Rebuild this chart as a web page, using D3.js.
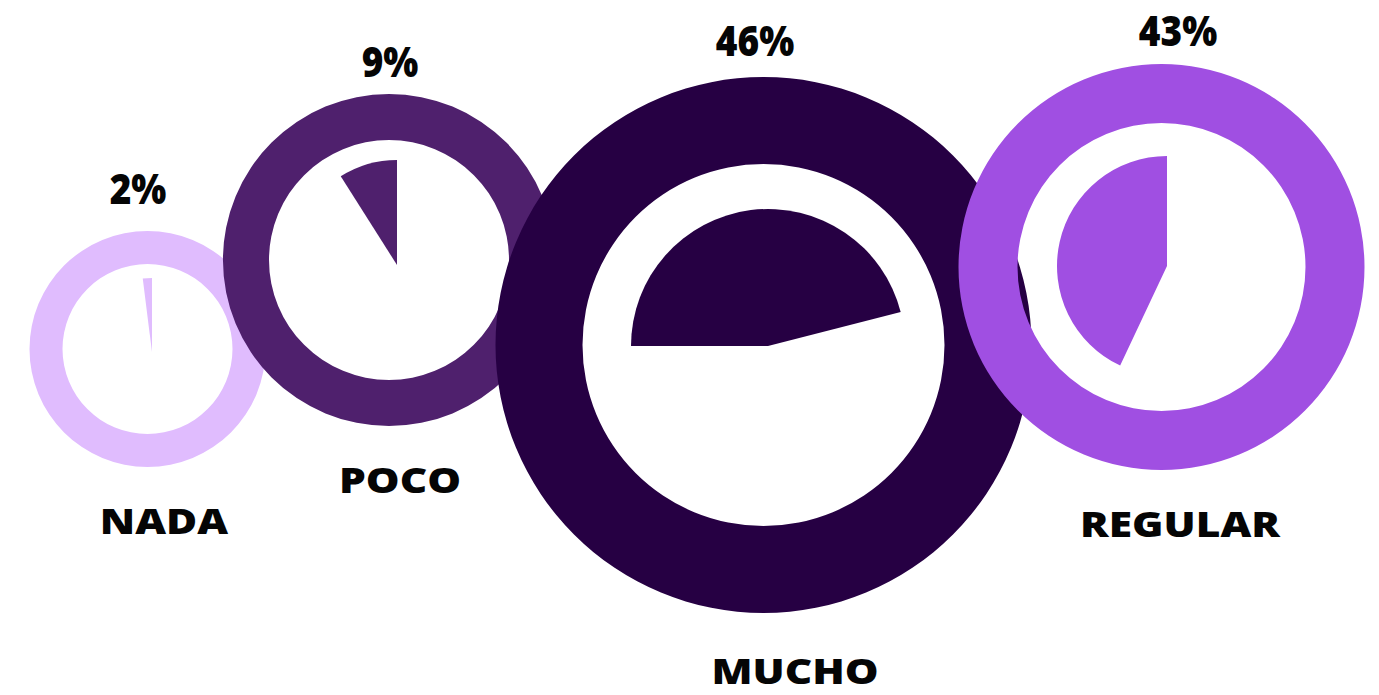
<!DOCTYPE html>
<html>
<head>
<meta charset="utf-8">
<script src="https://cdn.jsdelivr.net/npm/d3@7/dist/d3.min.js"></script>
<style>
  html, body { margin: 0; padding: 0; background: #ffffff; }
  svg { display: block; }
  text { font-family: "Open Sans", "Noto Sans", sans-serif; font-weight: 800; fill: #050505; }
</style>
</head>
<body>
<svg id="chart" width="1379" height="695"></svg>
<script>
// Survey answers and their shares (%)
const categories = ["NADA", "POCO", "MUCHO", "REGULAR"];
const shares = [2, 9, 46, 43];
const shareLabels = ["2%", "9%", "46%", "43%"];
const palette = ["#E0BCFE", "#4F206D", "#260043", "#A04FE2"];

// Placement of each ring (centre, radii), its wedge and its two labels
const layout = [
  { cx: 147.5, cy: 349, outer: 118, inner: 85,  wx: 152, wy: 352, wr: 74,  anchor: 0,   dir: -1,
    pct: [138, 204],  name: [164, 534] },
  { cx: 389,   cy: 260, outer: 166, inner: 120, wx: 397, wy: 265, wr: 105, anchor: 0,   dir: -1,
    pct: [390, 77],   name: [400, 493] },
  { cx: 763.5, cy: 345, outer: 268, inner: 181, wx: 768, wy: 346, wr: 137, anchor: -90, dir: 1,
    pct: [755, 56],   name: [795, 684] },
  { cx: 1161.5, cy: 267, outer: 203, inner: 144, wx: 1167, wy: 266, wr: 110, anchor: 0, dir: -1,
    pct: [1178, 46],  name: [1180, 537] }
];

const svg = d3.select("#chart");

// share (%) -> sweep angle (radians)
const sweep = d3.scaleLinear().domain([0, 100]).range([0, 2 * Math.PI]);
const deg = d3.scaleLinear().domain([0, 360]).range([0, 2 * Math.PI]);

const ringArc = d3.arc();
const wedgeArc = d3.arc().innerRadius(0);

categories.forEach((cat, i) => {
  const L = layout[i];
  const g = svg.append("g").attr("class", "item");

  // outer ring
  g.append("path")
    .attr("transform", `translate(${L.cx},${L.cy})`)
    .attr("fill", palette[i])
    .attr("d", ringArc({ innerRadius: L.inner, outerRadius: L.outer, startAngle: 0, endAngle: 2 * Math.PI }));

  // share wedge inside the ring
  const a0 = deg(L.anchor);
  const a1 = a0 + L.dir * sweep(shares[i]);
  g.append("path")
    .attr("transform", `translate(${L.wx},${L.wy})`)
    .attr("fill", palette[i])
    .attr("d", wedgeArc({ outerRadius: L.wr, startAngle: Math.min(a0, a1), endAngle: Math.max(a0, a1) }));
});

// percentage labels
categories.forEach((cat, i) => {
  const L = layout[i];
  svg.append("g")
    .attr("transform", `translate(${L.pct[0]},${L.pct[1]}) scale(0.88,1)`)
    .append("text")
    .attr("text-anchor", "middle")
    .attr("font-size", 42)
    .text(shareLabels[i]);
});

// category labels
categories.forEach((cat, i) => {
  const L = layout[i];
  svg.append("g")
    .attr("transform", `translate(${L.name[0]},${L.name[1]}) scale(1.18,1)`)
    .append("text")
    .attr("text-anchor", "middle")
    .attr("font-size", 36)
    .text(cat);
});
</script>
</body>
</html>
